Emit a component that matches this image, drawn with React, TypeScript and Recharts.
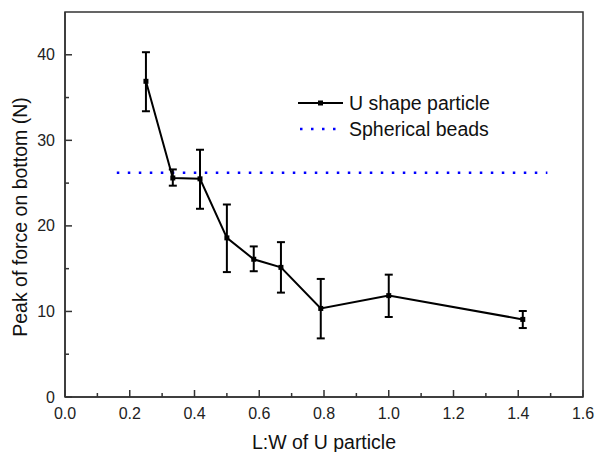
import React from 'react';
import { ComposedChart, Line, XAxis, YAxis, ErrorBar, Legend, ReferenceArea } from 'recharts';

const ratios = [0.25, 0.333, 0.417, 0.5, 0.583, 0.667, 0.79, 1.0, 1.414];
const peakForce = [36.9, 25.6, 25.5, 18.6, 16.1, 15.15, 10.35, 11.85, 9.07];
const upperBound = [40.3, 26.6, 28.9, 22.5, 17.6, 18.1, 13.8, 14.3, 10.05];
const lowerBound = [33.4, 24.7, 22.0, 14.6, 14.7, 12.2, 6.85, 9.35, 8.06];

const beadsX = [0.16, 1.49];
const beadsY = [26.2, 26.2];

const xTicks = [0, 0.1, 0.2, 0.3, 0.4, 0.5, 0.6, 0.7, 0.8, 0.9, 1.0, 1.1, 1.2, 1.3, 1.4, 1.5, 1.6];
const xMajor = [0, 0.2, 0.4, 0.6, 0.8, 1.0, 1.2, 1.4, 1.6];
const yTicks = [0, 5, 10, 15, 20, 25, 30, 35, 40, 45];
const yMajor = [0, 10, 20, 30, 40];

const seriesNames = ['U shape particle', 'Spherical beads'];
const xLabel = 'L:W of U particle';
const yLabel = 'Peak of force on bottom (N)';

const uData = ratios.map((x, i) => ({
  x,
  y: peakForce[i],
  err: [peakForce[i] - lowerBound[i], upperBound[i] - peakForce[i]],
}));
const beadData = beadsX.map((x, i) => ({ x, y: beadsY[i] }));

const FONT = '"Liberation Sans", Arial, sans-serif';
const AX = '#333';

const isMajor = (v: number, list: number[]) => list.some((m) => Math.abs(m - v) < 1e-6);

const XTick = (props: any) => {
  const { x, y, payload } = props;
  const major = isMajor(payload.value, xMajor);
  return (
    <g>
      <line x1={x} x2={x} y1={y} y2={y - (major ? 7 : 4)} stroke={AX} strokeWidth={1.5} />
      {major && (
        <text x={x} y={y + 16} dy="0.35em" textAnchor="middle" fontSize={16} fontFamily={FONT} fill="#222">
          {payload.value.toFixed(1)}
        </text>
      )}
    </g>
  );
};

const YTick = (props: any) => {
  const { x, y, payload } = props;
  const major = isMajor(payload.value, yMajor);
  if (payload.value === 45) return <g />;
  return (
    <g>
      <line x1={x} x2={x + (major ? 7 : 4)} y1={y} y2={y} stroke={AX} strokeWidth={1.5} />
      {major && (
        <text x={x - 10} y={y} dy="0.35em" textAnchor="end" fontSize={16} fontFamily={FONT} fill="#222">
          {payload.value}
        </text>
      )}
    </g>
  );
};

const SquareDot = (props: any) => {
  const { cx, cy, index } = props;
  if (cx == null || cy == null) return <g key={index} />;
  return <rect key={index} x={cx - 2.5} y={cy - 2.5} width={5} height={5} fill="#000" />;
};

const LegendContent = () => (
  <svg width={240} height={60} style={{ display: 'block' }}>
    <line x1={2} x2={47} y1={14} y2={14} stroke="#000" strokeWidth={2} />
    <rect x={22} y={11.5} width={5} height={5} fill="#000" />
    <text x={53} y={14} dy="0.35em" fontSize={19.5} fontFamily={FONT} fill="#111">
      {seriesNames[0]}
    </text>
    <line x1={4} x2={47} y1={40} y2={40} stroke="#0000ff" strokeWidth={2.5} strokeDasharray="2.5 8.5" />
    <text x={53} y={40} dy="0.35em" fontSize={19.5} fontFamily={FONT} fill="#111">
      {seriesNames[1]}
    </text>
  </svg>
);

const YLabel = () => (
  <text
    x={20}
    y={217}
    transform="rotate(-90, 20, 217)"
    textAnchor="middle"
    dy="0.35em"
    fontSize={19.5}
    fontFamily={FONT}
    fill="#111"
  >
    {yLabel}
  </text>
);

const XLabel = () => (
  <text x={324} y={442} textAnchor="middle" dy="0.35em" fontSize={19.5} fontFamily={FONT} fill="#111">
    {xLabel}
  </text>
);

export default function App() {
  return (
    <div style={{ position: 'absolute', left: 0, top: 0, width: 596, height: 452, background: '#fff' }}>
      <ComposedChart width={596} height={452} margin={{ top: 12, right: 13, bottom: 0, left: 0 }}>
        <XAxis
          xAxisId="b"
          type="number"
          dataKey="x"
          domain={[0, 1.6]}
          ticks={xTicks}
          interval={0}
          height={55}
          tickSize={0}
          tickMargin={0}
          tick={<XTick />}
          axisLine={{ stroke: AX, strokeWidth: 1.5 }}
          allowDataOverflow
          label={<XLabel />}
        />
        <YAxis
          yAxisId="l"
          type="number"
          domain={[0, 45]}
          ticks={yTicks}
          interval={0}
          width={65}
          tickSize={0}
          tickMargin={0}
          tick={<YTick />}
          axisLine={{ stroke: AX, strokeWidth: 1.5 }}
          allowDataOverflow
          label={<YLabel />}
        />
        <ReferenceArea
          xAxisId="b"
          yAxisId="l"
          x1={0}
          x2={1.6}
          y1={0}
          y2={45}
          fill="none"
          fillOpacity={0}
          stroke={AX}
          strokeWidth={1.5}
          ifOverflow="visible"
        />
        <Legend
          layout="vertical"
          verticalAlign="middle"
          align="center"
          content={<LegendContent />}
          wrapperStyle={{ position: 'absolute', left: 296, top: 89, width: 240, height: 60 }}
        />
        <Line
          xAxisId="b"
          yAxisId="l"
          data={beadData}
          dataKey="y"
          name={seriesNames[1]}
          stroke="#0000ff"
          strokeWidth={2.5}
          strokeDasharray="2.5 8.5"
          dot={false}
          activeDot={false}
          isAnimationActive={false}
        />
        <Line
          xAxisId="b"
          yAxisId="l"
          data={uData}
          dataKey="y"
          name={seriesNames[0]}
          stroke="#000"
          strokeWidth={2}
          dot={<SquareDot />}
          activeDot={false}
          isAnimationActive={false}
        >
          <ErrorBar dataKey="err" direction="y" width={4} stroke="#000" strokeWidth={2} />
        </Line>
      </ComposedChart>
    </div>
  );
}
